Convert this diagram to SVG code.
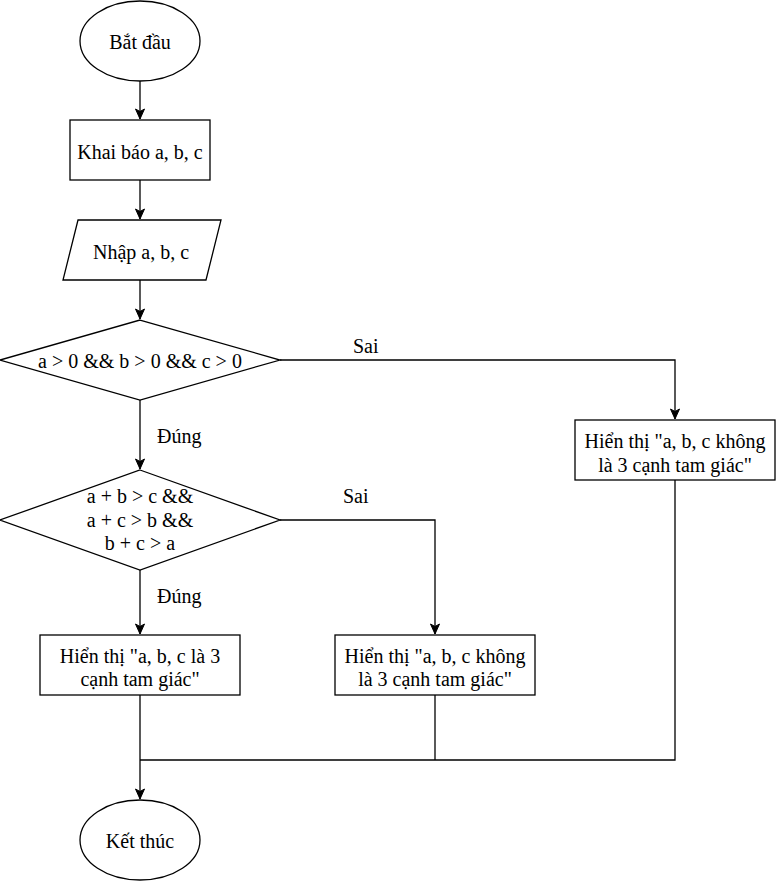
<svg xmlns="http://www.w3.org/2000/svg" width="777" height="882" viewBox="0 0 777 882">
  <style>
    .shape { fill: #ffffff; stroke: #000000; stroke-width: 1.3; }
    .edge { fill: none; stroke: #000000; stroke-width: 1.3; }
    text { font-family: "Liberation Serif", "Times New Roman", "DejaVu Serif", serif; font-size: 20px; fill: #000000; text-anchor: middle; }
    .lbl { text-anchor: start; }
  </style>
  <defs>
    <marker id="arrow" markerUnits="userSpaceOnUse" markerWidth="12" markerHeight="12" viewBox="0 0 12 12" refX="11" refY="6" orient="auto">
      <path d="M1,1.5 L11,6 L1,10.5 L3.5,6 Z" fill="#000000" stroke="#000000" stroke-width="1"/>
    </marker>
  </defs>
  <rect width="777" height="882" fill="#ffffff"/>

  <!-- connectors -->
  <g id="connectors">
    <path class="edge" d="M140,81 L140,119" marker-end="url(#arrow)"/>
    <path class="edge" d="M140,180 L140,219" marker-end="url(#arrow)"/>
    <path class="edge" d="M140,280 L140,319" marker-end="url(#arrow)"/>
    <path class="edge" d="M280,360 L675,360 L675,419" marker-end="url(#arrow)"/>
    <path class="edge" d="M140,400 L140,469" marker-end="url(#arrow)"/>
    <path class="edge" d="M280,520 L435,520 L435,634" marker-end="url(#arrow)"/>
    <path class="edge" d="M140,570 L140,634" marker-end="url(#arrow)"/>
    <path class="edge" d="M140,695 L140,799" marker-end="url(#arrow)"/>
    <path class="edge" d="M435,695 L435,760"/>
    <path class="edge" d="M675,480 L675,760 L140,760"/>
    <text class="lbl" x="353" y="353">Sai</text>
    <text class="lbl" x="343" y="503">Sai</text>
    <text class="lbl" x="157" y="443">Đúng</text>
    <text class="lbl" x="157" y="603">Đúng</text>
  </g>

  <g id="start">
    <ellipse class="shape" cx="140" cy="41" rx="60" ry="40"/>
    <text x="140" y="49">Bắt đầu</text>
  </g>

  <g id="declare">
    <rect class="shape" x="70" y="120" width="140" height="60"/>
    <text x="140" y="159">Khai báo a, b, c</text>
  </g>

  <g id="input">
    <polygon class="shape" points="78,220 221,220 206,280 63,280"/>
    <text x="141" y="259">Nhập a, b, c</text>
  </g>

  <g id="check-positive">
    <polygon class="shape" points="140,320 280,360 140,400 0,360"/>
    <text x="140" y="368">a &gt; 0 &amp;&amp; b &gt; 0 &amp;&amp; c &gt; 0</text>
  </g>

  <g id="check-triangle">
    <polygon class="shape" points="140,470 280,520 140,570 0,520"/>
    <text x="140" y="503">a + b &gt; c &amp;&amp;</text>
    <text x="140" y="527">a + c &gt; b &amp;&amp;</text>
    <text x="140" y="550">b + c &gt; a</text>
  </g>

  <g id="not-positive">
    <rect class="shape" x="575" y="420" width="200" height="60"/>
    <text x="675" y="448">Hiển thị "a, b, c không</text>
    <text x="675" y="472">là 3 cạnh tam giác"</text>
  </g>

  <g id="is-triangle">
    <rect class="shape" x="40" y="635" width="200" height="60"/>
    <text x="140" y="663">Hiển thị "a, b, c là 3</text>
    <text x="140" y="686">cạnh tam giác"</text>
  </g>

  <g id="not-triangle">
    <rect class="shape" x="335" y="635" width="200" height="60"/>
    <text x="435" y="663">Hiển thị "a, b, c không</text>
    <text x="435" y="686">là 3 cạnh tam giác"</text>
  </g>

  <g id="end">
    <ellipse class="shape" cx="140" cy="840" rx="60" ry="40"/>
    <text x="140" y="848">Kết thúc</text>
  </g>
</svg>
